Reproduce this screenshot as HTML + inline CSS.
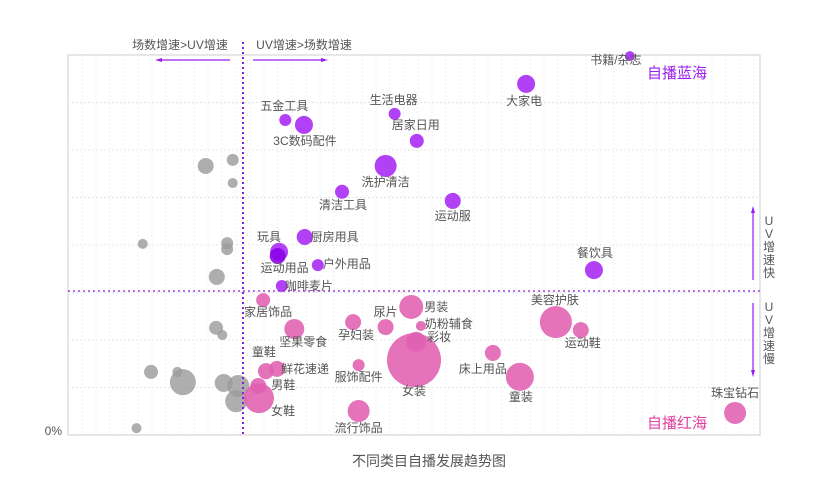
<!DOCTYPE html>
<html><head><meta charset="utf-8"><style>
body{margin:0;background:#fff;}
svg{display:block;font-family:"Liberation Sans","Noto Sans CJK SC",sans-serif;}
</style></head><body>
<svg id="chart" width="820" height="495" viewBox="0 0 820 495">
<rect x="68" y="55" width="692" height="380" fill="#fff" stroke="#ccc" stroke-width="1"/>
<g id="grid"></g>
<g id="bubbles"></g>
<g id="labels"></g>
<line x1="243" y1="42" x2="243" y2="437" stroke="#8a1ee0" stroke-width="2" stroke-dasharray="2,3"/>
<line x1="68" y1="291" x2="760" y2="291" stroke="#8a1ee0" stroke-width="1.2" stroke-dasharray="2,3"/>
<text x="180" y="49" font-size="12" fill="#555" text-anchor="middle">场数增速&gt;UV增速</text>
<text x="304" y="49" font-size="12" fill="#555" text-anchor="middle">UV增速&gt;场数增速</text>
<line x1="158" y1="60" x2="230" y2="60" stroke="#9a1ef0" stroke-width="1.2"/>
<polygon points="155,60 162,58 162,62" fill="#9a1ef0"/>
<line x1="253" y1="60" x2="325" y2="60" stroke="#9a1ef0" stroke-width="1.2"/>
<polygon points="328,60 321,58 321,62" fill="#9a1ef0"/>
<line x1="753" y1="210" x2="753" y2="280" stroke="#9a1ef0" stroke-width="1.2"/>
<polygon points="753,206 751,213 755,213" fill="#9a1ef0"/>
<line x1="753" y1="303" x2="753" y2="373" stroke="#9a1ef0" stroke-width="1.2"/>
<polygon points="753,377 751,370 755,370" fill="#9a1ef0"/>
<g font-size="12" fill="#555" text-anchor="middle">
<text x="769" y="225">U</text><text x="769" y="238">V</text><text x="769" y="251">增</text><text x="769" y="264">速</text><text x="769" y="277">快</text></g>
<g font-size="12" fill="#555" text-anchor="middle">
<text x="769" y="311">U</text><text x="769" y="324">V</text><text x="769" y="337">增</text><text x="769" y="350">速</text><text x="769" y="363">慢</text></g>
<text x="677" y="78" font-size="15" fill="#9a1ef0" text-anchor="middle">自播蓝海</text>
<text x="677" y="428" font-size="15" fill="#e0409f" text-anchor="middle">自播红海</text>
<text x="62" y="435" font-size="12" fill="#555" text-anchor="end">0%</text>
<text x="429" y="466" font-size="14" fill="#555" text-anchor="middle">不同类目自播发展趋势图</text>
</svg>
<script>
const names=["书籍/杂志","大家电","五金工具","3C数码配件","生活电器","居家日用","洗护清洁","清洁工具","运动服","厨房用具","玩具","运动用品","户外用品","咖啡麦片","餐饮具","家居饰品","坚果零食","孕妇装","尿片","男装","奶粉辅食","彩妆","女装","童鞋","鲜花速递","服饰配件","男鞋","女鞋","流行饰品","床上用品","童装","美容护肤","运动鞋","珠宝钻石","","","","","","","","","","","","","","","",""];
const xVals=[81.2,66.2,31.4,34.1,47.2,50.4,45.9,39.6,55.6,34.2,30.5,30.3,36.1,30.9,76.0,28.2,32.7,41.2,45.9,49.6,51.0,50.3,50.0,28.6,30.2,42.0,27.5,27.6,42.0,61.4,65.3,70.5,74.1,96.4,19.9,23.8,23.8,10.8,23.0,23.0,21.5,21.4,22.3,12.0,15.8,16.6,22.5,24.6,24.3,9.9];
const yVals=[99.7,92.4,82.9,81.6,84.5,77.4,70.8,64.0,61.6,52.1,48.2,47.1,44.7,39.2,43.4,35.5,27.9,29.7,28.4,33.7,28.7,24.5,19.7,16.8,17.4,18.4,12.9,9.7,6.3,21.6,15.3,29.7,27.6,5.8,70.8,72.4,66.3,50.3,50.5,48.9,41.6,28.2,26.3,16.6,16.6,13.9,13.7,12.9,8.9,1.8];
const sizes=[5,9,6,9,6,7,11,7,8,8,9,8,6,6,9,7,10,8,8,12,5,10,27,8,8,6,8,15,11,8,14,16,8,11,8,6,5,5,6,6,8,7,5,7,5,13,9,11,11,5];
const groups=["b","b","b","b","b","b","b","b","b","b","b","d","b","b","b","p","p","p","p","p","p","p","p","p","p","p","p","p","p","p","p","p","p","p","g","g","g","g","g","g","g","g","g","g","g","g","g","g","g","g"];
const lblOff=[[-14,8,"middle"],[-2,21,"middle"],[-1,-10,"middle"],[1,20,"middle"],[-1,-10,"middle"],[-1,-12,"middle"],[0,20,"middle"],[1,17,"middle"],[0,19,"middle"],[30,4,"middle"],[-10,-11,"middle"],[7,16,"middle"],[29,3,"middle"],[27,4,"middle"],[1,-13,"middle"],[5,16,"middle"],[9,17,"middle"],[3,17,"middle"],[0,-11,"middle"],[25,4,"middle"],[28,2,"middle"],[23,-1,"middle"],[0,35,"middle"],[-2,-15,"middle"],[28,4,"middle"],[0,16,"middle"],[25,3,"middle"],[24,17,"middle"],[0,21,"middle"],[-10,20,"middle"],[1,24,"middle"],[-1,-18,"middle"],[2,17,"middle"],[0,-16,"middle"]];
const X0=68,X1=760,Y0=435,Y1=55;
const sx=v=>X0+v/100*(X1-X0), sy=v=>Y0-v/100*(Y0-Y1);
const NS="http://www.w3.org/2000/svg";
const grid=document.getElementById("grid");
for(let i=1;i<8;i++){const l=document.createElementNS(NS,"line");


const y=Y1+i*(Y0-Y1)/8;l.setAttribute("x1",X0);l.setAttribute("x2",X1);l.setAttribute("y1",y);l.setAttribute("y2",y);l.setAttribute("stroke","#e4e4e4");l.setAttribute("stroke-dasharray","2,2");grid.appendChild(l);}
for(let x=X0+14;x<X1;x+=14){const l=document.createElementNS(NS,"line");


l.setAttribute("x1",x);l.setAttribute("x2",x);l.setAttribute("y1",Y1);l.setAttribute("y2",Y0);l.setAttribute("stroke","#efefef");l.setAttribute("stroke-dasharray","2,2");grid.appendChild(l);}
const col={b:"#a726f2",d:"#8a00e8",p:"#e060b0",g:"#9a9a9a"};
const bg=document.getElementById("bubbles"),lg=document.getElementById("labels");
const order=[...xVals.keys()].filter(i=>groups[i]=="g").concat([...xVals.keys()].filter(i=>groups[i]!="g"));
order.forEach(i=>{const c=document.createElementNS(NS,"circle");


c.setAttribute("cx",sx(xVals[i]));c.setAttribute("cy",sy(yVals[i]));c.setAttribute("r",sizes[i]);c.setAttribute("fill",col[groups[i]]);c.setAttribute("fill-opacity",groups[i]=="g"?0.8:0.88);bg.appendChild(c);});
names.forEach((n,i)=>{if(!n)return;const t=document.createElementNS(NS,"text");


const o=lblOff[i];t.setAttribute("x",sx(xVals[i])+o[0]);t.setAttribute("y",sy(yVals[i])+o[1]);t.setAttribute("text-anchor",o[2]);t.setAttribute("font-size","12");t.setAttribute("fill","#555");t.textContent=n;lg.appendChild(t);});
</script>
</body></html>
